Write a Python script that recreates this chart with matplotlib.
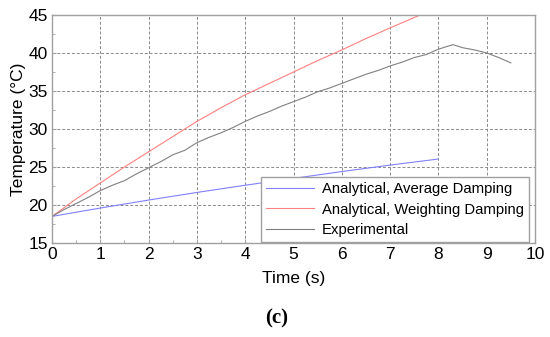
import matplotlib
matplotlib.use("Agg")
import matplotlib.pyplot as plt
import numpy as np

plt.rcParams['font.family'] = ['Liberation Sans', 'DejaVu Sans']

# Data
t_avg = [0, 1, 2, 3, 4, 5, 6, 7, 8]
T_avg = [18.5, 19.6, 20.65, 21.65, 22.6, 23.5, 24.4, 25.25, 26.05]

t_wt = [0, 0.5, 1, 1.5, 2, 2.5, 3, 3.5, 4, 4.5, 5, 5.5, 6, 6.5, 7, 7.62]
T_wt = [18.5, 20.8, 22.9, 25.0, 27.0, 29.0, 31.0, 32.8, 34.5, 36.0, 37.5, 39.0, 40.4, 41.9, 43.3, 45.0]

t_exp = [0, 0.25, 0.5, 0.75, 1.0, 1.25, 1.5, 1.75, 2.0, 2.25, 2.5, 2.75, 3.0, 3.25, 3.5,
         3.75, 4.0, 4.25, 4.5, 4.75, 5.0, 5.25, 5.5, 5.75, 6.0, 6.25, 6.5, 6.75, 7.0,
         7.25, 7.5, 7.75, 8.0, 8.3, 8.5, 8.75, 9.0, 9.25, 9.5]
T_exp = [18.5, 19.4, 20.2, 21.0, 21.9, 22.6, 23.2, 24.1, 24.9, 25.7, 26.6, 27.2, 28.2, 28.9, 29.5,
         30.2, 31.0, 31.7, 32.3, 33.0, 33.6, 34.2, 34.9, 35.4, 36.0, 36.6, 37.2, 37.7, 38.3,
         38.8, 39.4, 39.8, 40.5, 41.1, 40.7, 40.4, 40.0, 39.4, 38.7]

labels = ['Analytical, Average Damping', 'Analytical, Weighting Damping', 'Experimental']

fig = plt.figure(figsize=(5.5, 3.37), dpi=100)
ax = fig.add_axes([52/550, 1-243/337, (535-52)/550, (243-15)/337])

ax.plot(t_avg, T_avg, color='#8080ff', lw=0.8, label=labels[0])
ax.plot(t_wt, T_wt, color='#ff8080', lw=0.8, label=labels[1])
ax.plot(t_exp, T_exp, color='#808080', lw=0.8, label=labels[2])

ax.set_xlim(0, 10)
ax.set_ylim(15, 45)
ax.set_xticks(np.arange(0, 11, 1))
ax.set_yticks(np.arange(15, 46, 5))
ax.set_xticks(np.arange(0, 10.01, 0.5), minor=True)
ax.set_yticks(np.arange(15, 45.01, 2.5), minor=True)
ax.grid(True, which='major', color='#8a8a8a', linestyle=(0, (3, 2)), linewidth=0.7)
ax.tick_params(which='both', direction='in', colors='#a0a0a0', labelcolor='black', labelsize=12.5)
ax.tick_params(which='major', length=3, pad=3)
ax.tick_params(which='minor', length=2)
for s in ax.spines.values():
    s.set_color('#a0a0a0')
    s.set_linewidth(1.0)

ax.set_xlabel('Time (s)', fontsize=12.5, labelpad=6)
ax.set_ylabel('Temperature (°C)', fontsize=12.5, labelpad=2)

leg = ax.legend(loc='lower right', bbox_to_anchor=(0.9876, 0.004), fontsize=10.7,
                frameon=True, fancybox=False, edgecolor='#a0a0a0', framealpha=1,
                handlelength=3.2, labelspacing=0.42, borderpad=0.35, handletextpad=0.55,
                borderaxespad=0)
leg.get_frame().set_linewidth(1.0)

fig.text(277/550, 1-318/337, '(c)', fontsize=15, fontweight='bold',
         family=['Liberation Serif', 'DejaVu Serif'], ha='center', va='center')

fig.savefig('out.png', dpi=100)
